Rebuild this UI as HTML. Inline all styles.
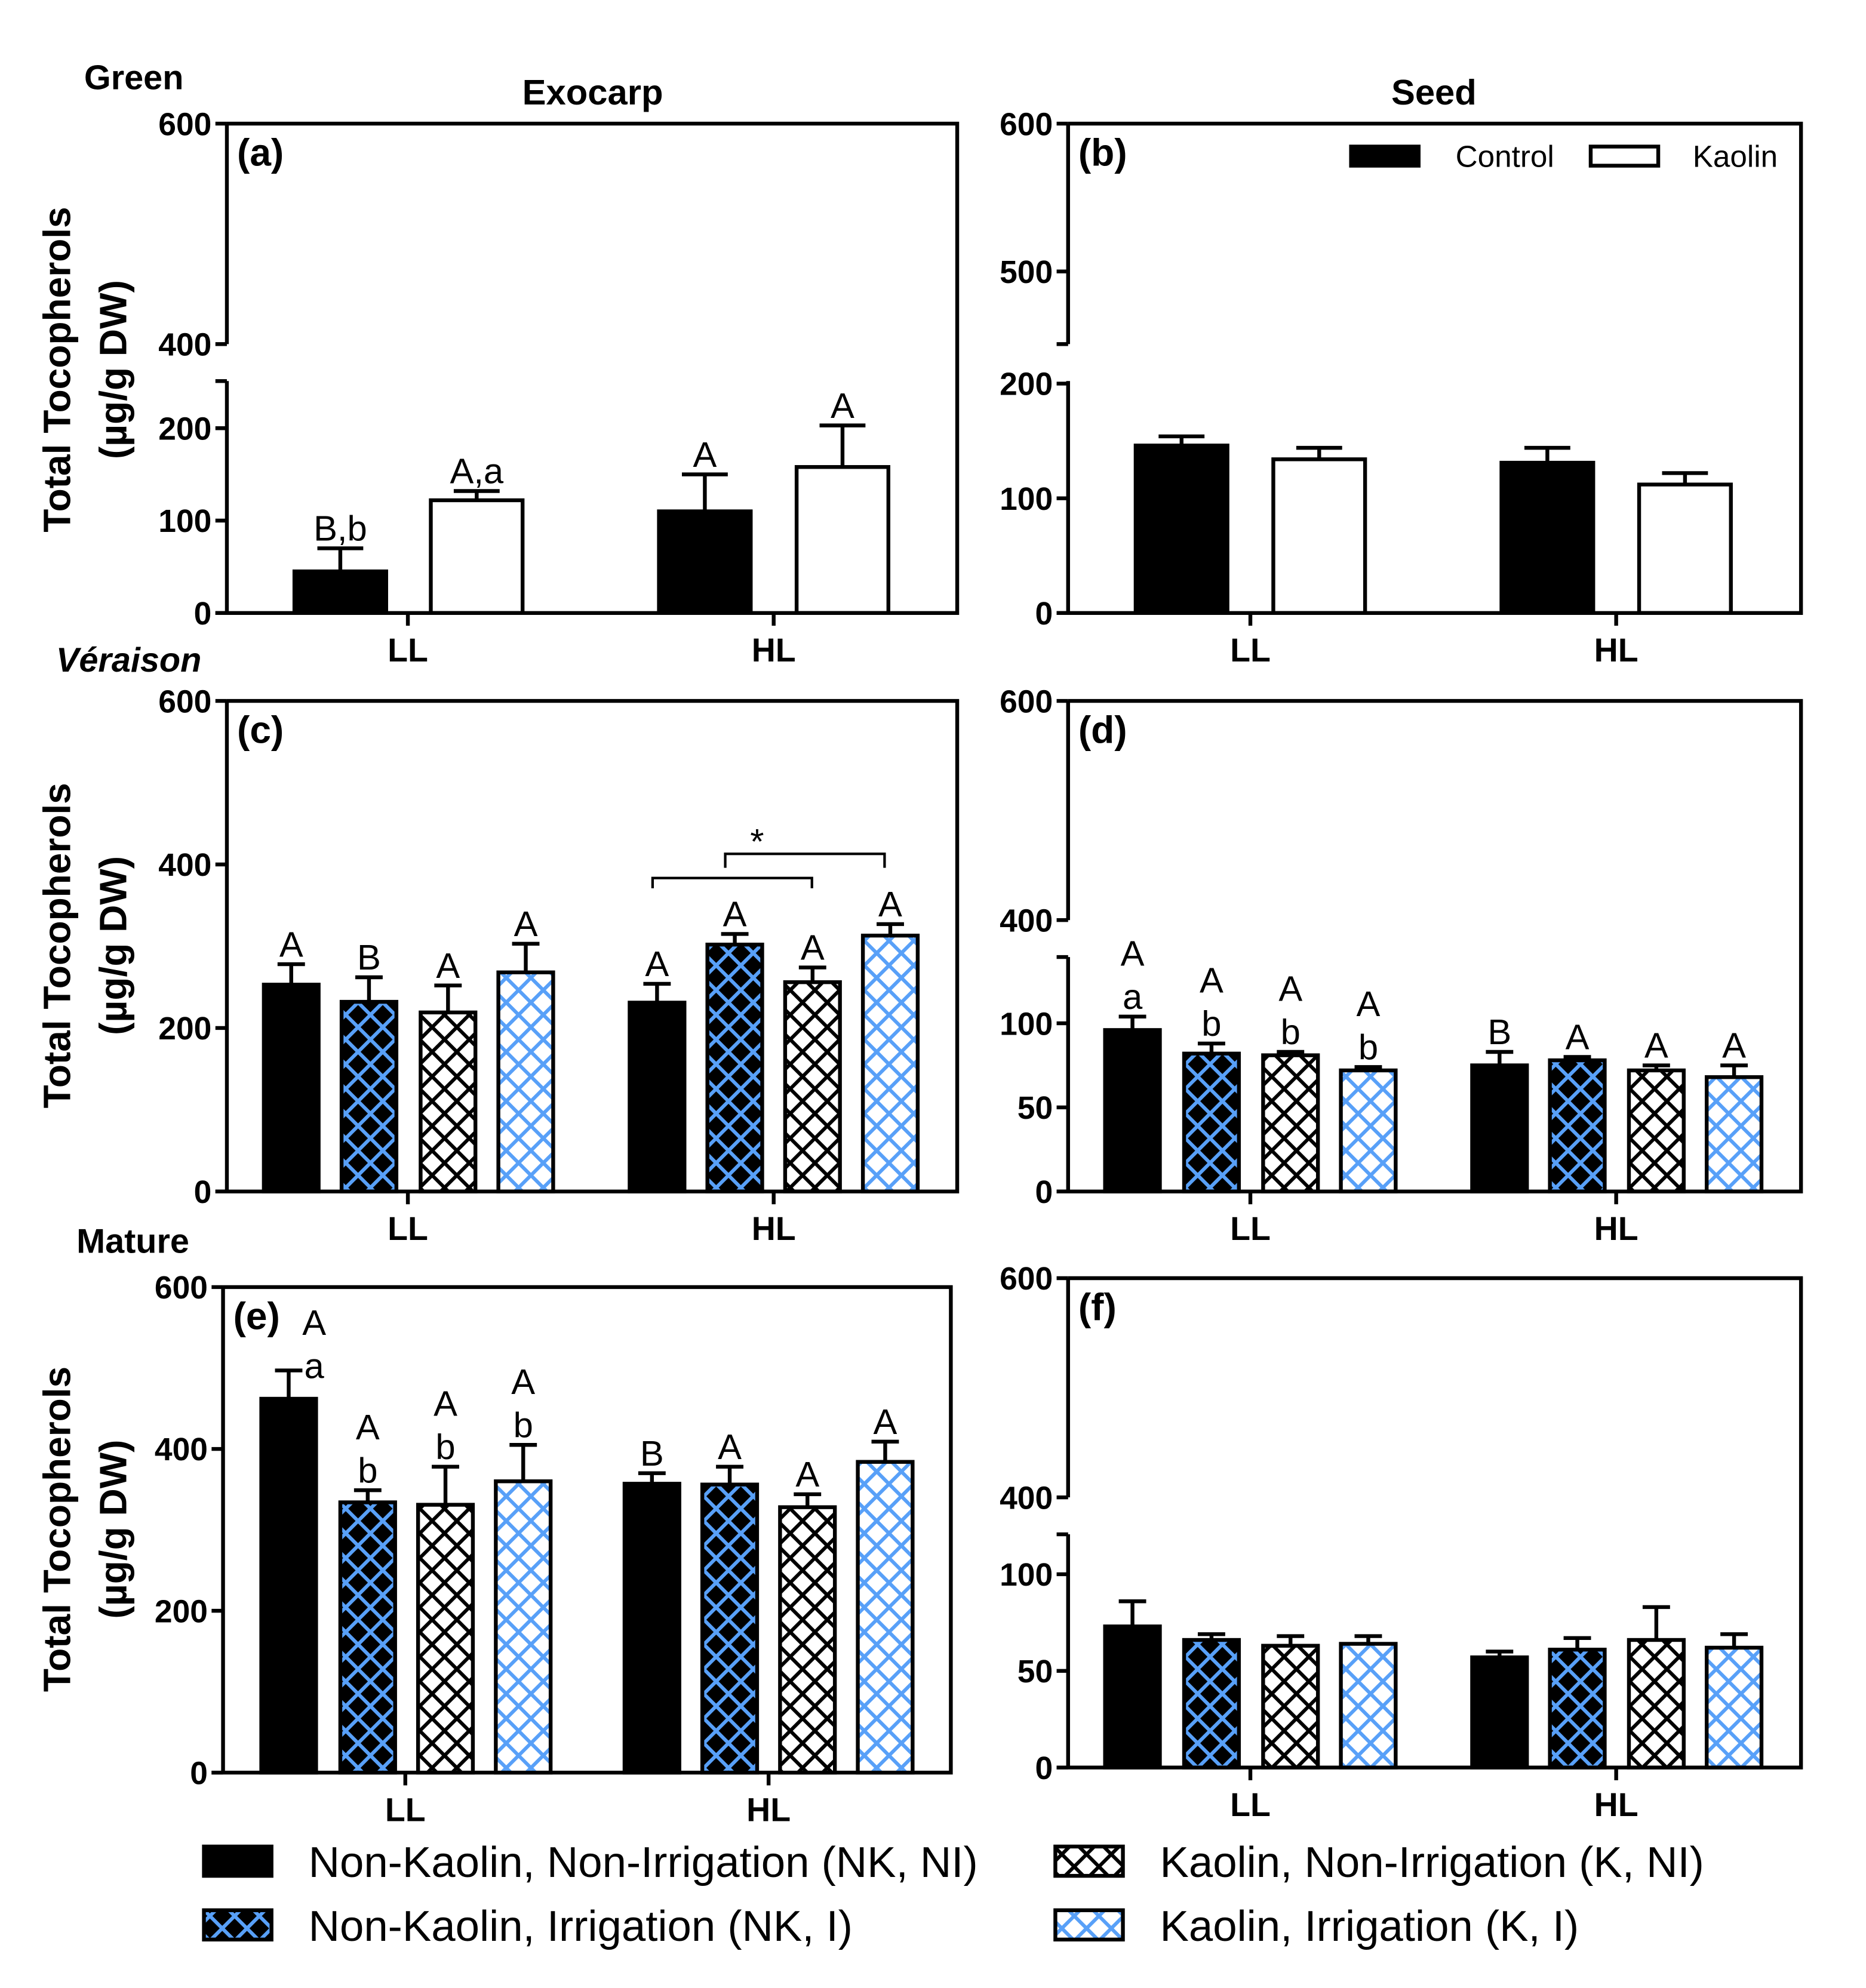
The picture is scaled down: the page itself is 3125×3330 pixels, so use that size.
<!DOCTYPE html>
<html><head><meta charset="utf-8"><style>
html,body{margin:0;padding:0;background:#fff}
svg{display:block}
text{font-family:"Liberation Sans",Arial,sans-serif}
</style></head><body>
<svg id="chart" width="3125" height="3330" viewBox="0 0 1464 1560" xmlns="http://www.w3.org/2000/svg">
<defs>
<pattern id="pNKI" patternUnits="userSpaceOnUse" width="13.7" height="13.7" patternTransform="rotate(45)"><rect width="13.7" height="13.7" fill="#000"/><rect x="0" y="0" width="13.7" height="2.8" fill="#58a0f8"/><rect x="0" y="0" width="2.8" height="13.7" fill="#58a0f8"/></pattern>
<pattern id="pKNI" patternUnits="userSpaceOnUse" width="13.7" height="13.7" patternTransform="rotate(45)"><rect width="13.7" height="13.7" fill="#fff"/><rect x="0" y="0" width="13.7" height="2.8" fill="#000"/><rect x="0" y="0" width="2.8" height="13.7" fill="#000"/></pattern>
<pattern id="pKI" patternUnits="userSpaceOnUse" width="13.7" height="13.7" patternTransform="rotate(45)"><rect width="13.7" height="13.7" fill="#fff"/><rect x="0" y="0" width="13.7" height="2.8" fill="#58a0f8"/><rect x="0" y="0" width="2.8" height="13.7" fill="#58a0f8"/></pattern>
</defs>
<g id="root"></g>
</svg>
<script>
// ---- data ----
const categories = ["LL","HL"];
const valsA = [45,122,110,158];
const errA  = [25,10,40,45];
const lblA  = [["B,b"],["A,a"],["A"],["A"]];
const valsB = [146,134,131,112];
const errB  = [8,10,13,10];
const valsC = [253,232,219,268,231,302,256,313];
const errC  = [25,30,33,35,23,13,18,14];
const lblC  = [["A"],["B"],["A"],["A"],["A"],["A"],["A"],["A"]];
const valsD = [96,82,81,72,75,78,72,68];
const errD  = [8,6,2,2,8,2,3,7];
const lblD  = [["A","a"],["A","b"],["A","b"],["A","b"],["B"],["A"],["A"],["A"]];
const valsE = [462,334,331,360,357,356,328,384];
const errE  = [35,15,47,45,13,22,16,25];
const lblE  = [["A","a"],["A","b"],["A","b"],["A","b"],["B"],["A"],["A"],["A"]];
const valsF = [73,66,63,64,57,61,66,62];
const errF  = [13,3,5,4,3,6,17,7];
const ticksFull = [0,200,400,600];

const NS="http://www.w3.org/2000/svg";
const root=document.getElementById('root');
function mk(tag,attrs,parent){const e=document.createElementNS(NS,tag);for(const k in attrs)e.setAttribute(k,attrs[k]);(parent||root).appendChild(e);return e;}
function txt(s,x,y,size,opts,parent){opts=opts||{};const t=mk('text',{x:x,y:y,'font-size':size,'text-anchor':opts.anchor||'middle','font-weight':opts.weight||'normal','font-style':opts.style||'normal',fill:'#000'},parent);if(opts.rot)t.setAttribute('transform','rotate(-90 '+x+' '+y+')');t.textContent=s;return t;}

const fills2=['#000','#fff'];
const fills4=['#000','url(#pNKI)','url(#pKNI)','url(#pKI)'];

function makeScale(segs){return v=>{for(const s of segs){if(v>=Math.min(s.v0,s.v1)&&v<=Math.max(s.v0,s.v1)) return s.y0+(v-s.v0)*(s.y1-s.y0)/(s.v1-s.v0);}const s=segs[0];return s.y0+(v-s.v0)*(s.y1-s.y0)/(s.v1-s.v0);};}

function panel(p){
  const g=mk('g',{});
  
  
  const y=makeScale(p.segs);
  p.vals.forEach((v,i)=>{
    const x=p.bx[i], w=p.bw, top=y(v), base=y(0), n=p.vals.length;
    const fill=(n===4?fills2:fills4)[i%(n===4?2:4)];
    const r=mk('rect',{x:x,y:top,width:w,height:base-top,fill:fill,stroke:'#000','stroke-width':3},g);
    
    
    const et=y(v+p.err[i]);
    const el=mk('path',{d:`M${x+w/2},${top}V${et}M${x+w/2-w/4},${et}H${x+w/2+w/4}`,stroke:'#000','stroke-width':3,fill:'none'},g);
    
    
    if(p.lbl&&p.lbl[i]){
      const L=p.lbl[i]; const dx=(p.lblDx&&p.lblDx[i])||0;
      L.forEach((s,k)=>{
        const ly=et-6-(L.length-1-k)*34 + (p.lblDy&&p.lblDy[i]||0);
        const t=txt(s,x+w/2+dx,ly,28,{},g);
        
        
      });
    }
  });
  const L=p.x0,R=p.x1,T=p.top,B=p.bot;
  mk('path',{d:`M${L},${T}H${R}V${B}H${L-9}`,stroke:'#000','stroke-width':3,fill:'none'},g);
  p.axisSegs.forEach(s=>mk('path',{d:`M${L},${s[0]}V${s[1]}`,stroke:'#000','stroke-width':3,fill:'none'},g));
  p.ticks.forEach(t=>{const ty=y(t);mk('path',{d:`M${L-9},${ty}H${L}`,stroke:'#000','stroke-width':3},g);
    const tl=txt(String(t),L-12,ty+9,25,{anchor:'end',weight:'bold'},g);
    });
  (p.breakTicks||[]).forEach(ty=>mk('path',{d:`M${L-9},${ty}H${L}`,stroke:'#000','stroke-width':3},g));
  categories.forEach((c,k)=>{const cx=p.cx[k];mk('path',{d:`M${cx},${B}V${B+10}`,stroke:'#000','stroke-width':3},g);
    const t=txt(c,cx,B+38,26,{weight:'bold'},g);});
  const pl=txt(p.tag,L+8,T+33,30,{anchor:'start',weight:'bold'},g);
  
}

const bx2L=[231,338,517,625], bx2R=[891,999,1178,1286];
const bx4L=[207,268,330,391,494,555,616,677], bx4R=[867,929,991,1052,1155,1216,1278,1339];
const bx4E=[205,267,328,389,490,551,612,673];

panel({id:'a',name:'panel-a-exocarp-green',tag:'(a)',x0:178,x1:751,top:97,bot:481,
  segs:[{v0:0,v1:200,y0:481,y1:336},{v0:400,v1:600,y0:270,y1:97}],axisSegs:[[97,270],[299,481]],
  ticks:[0,100,200,400,600],breakTicks:[299],vals:valsA,err:errA,lbl:lblA,bx:bx2L,bw:72,cx:[320,607]});
panel({id:'b',name:'panel-b-seed-green',tag:'(b)',x0:838,x1:1413,top:97,bot:481,
  segs:[{v0:0,v1:200,y0:481,y1:301},{v0:500,v1:600,y0:213,y1:97}],axisSegs:[[97,270],[299,481]],
  ticks:[0,100,200,500,600],breakTicks:[270],vals:valsB,err:errB,bx:bx2R,bw:72,cx:[981,1268]});
panel({id:'c',name:'panel-c-exocarp-veraison',tag:'(c)',x0:178,x1:751,top:550,bot:935,
  segs:[{v0:0,v1:600,y0:935,y1:550}],axisSegs:[[550,935]],
  ticks:ticksFull,vals:valsC,err:errC,lbl:lblC,bx:bx4L,bw:43,cx:[320,607]});
panel({id:'d',name:'panel-d-seed-veraison',tag:'(d)',x0:838,x1:1413,top:550,bot:935,
  segs:[{v0:0,v1:150,y0:935,y1:737},{v0:400,v1:600,y0:722,y1:550}],axisSegs:[[550,722],[751,935]],
  ticks:[0,50,100,400,600],breakTicks:[751],vals:valsD,err:errD,lbl:lblD,bx:bx4R,bw:43,cx:[981,1268]});
panel({id:'e',name:'panel-e-exocarp-mature',tag:'(e)',x0:175,x1:746,top:1010,bot:1391,
  segs:[{v0:0,v1:600,y0:1391,y1:1010}],axisSegs:[[1010,1391]],
  ticks:ticksFull,vals:valsE,err:errE,lbl:lblE,lblDx:[20,0,0,0,0,0,0,0],lblDy:[12,0,0,0,0,0,0,0],bx:bx4E,bw:43,cx:[318,603]});
panel({id:'f',name:'panel-f-seed-mature',tag:'(f)',x0:838,x1:1413,top:1003,bot:1387,
  segs:[{v0:0,v1:120,y0:1387,y1:1205},{v0:400,v1:600,y0:1175,y1:1003}],axisSegs:[[1003,1175],[1204,1387]],
  ticks:[0,50,100,400,600],breakTicks:[1204],vals:valsF,err:errF,bx:bx4R,bw:43,cx:[981,1268]});

const br=mk('path',{d:'M512,697V689H637V697M569,681V670H694V681',stroke:'#000','stroke-width':2,fill:'none'});


const st=txt('*',594,670,28,{});



[['Exocarp',465,82,28,{weight:'bold'}],['Seed',1125,82,28,{weight:'bold'}],
 ['Green',66,70,27,{anchor:'start',weight:'bold'}],['Véraison',44,527,27,{anchor:'start',weight:'bold',style:'italic'}],
 ['Mature',60,983,27,{anchor:'start',weight:'bold'}]].forEach(a=>{const t=txt(a[0],a[1],a[2],a[3],a[4]);
 });
[290,742,1200].forEach(cy=>{
  const t1=txt('Total Tocopherols',55,cy,30,{weight:'bold',rot:true});
  
  const t2=txt('(µg/g DW)',99,cy,30,{weight:'bold',rot:true});
  
});

[['#000',1060,'Control',1142],['#fff',1248,'Kaolin',1328]].forEach(l=>{
  const r=mk('rect',{x:l[1],y:115,width:53,height:15,fill:l[0],stroke:'#000','stroke-width':3});
  
  const t=txt(l[2],l[3],131,24,{anchor:'start'});
  
});
[['#000',160,1449,'Non-Kaolin, Non-Irrigation (NK, NI)',242],
 ['url(#pNKI)',160,1499,'Non-Kaolin, Irrigation (NK, I)',242],
 ['url(#pKNI)',828,1449,'Kaolin, Non-Irrigation (K, NI)',910],
 ['url(#pKI)',828,1499,'Kaolin, Irrigation (K, I)',910]].forEach(l=>{
  const r=mk('rect',{x:l[1],y:l[2],width:53,height:23,fill:l[0],stroke:'#000','stroke-width':3});
  
  const t=txt(l[3],l[4],l[2]+24,34,{anchor:'start'});
  
});
</script>
</body></html>
